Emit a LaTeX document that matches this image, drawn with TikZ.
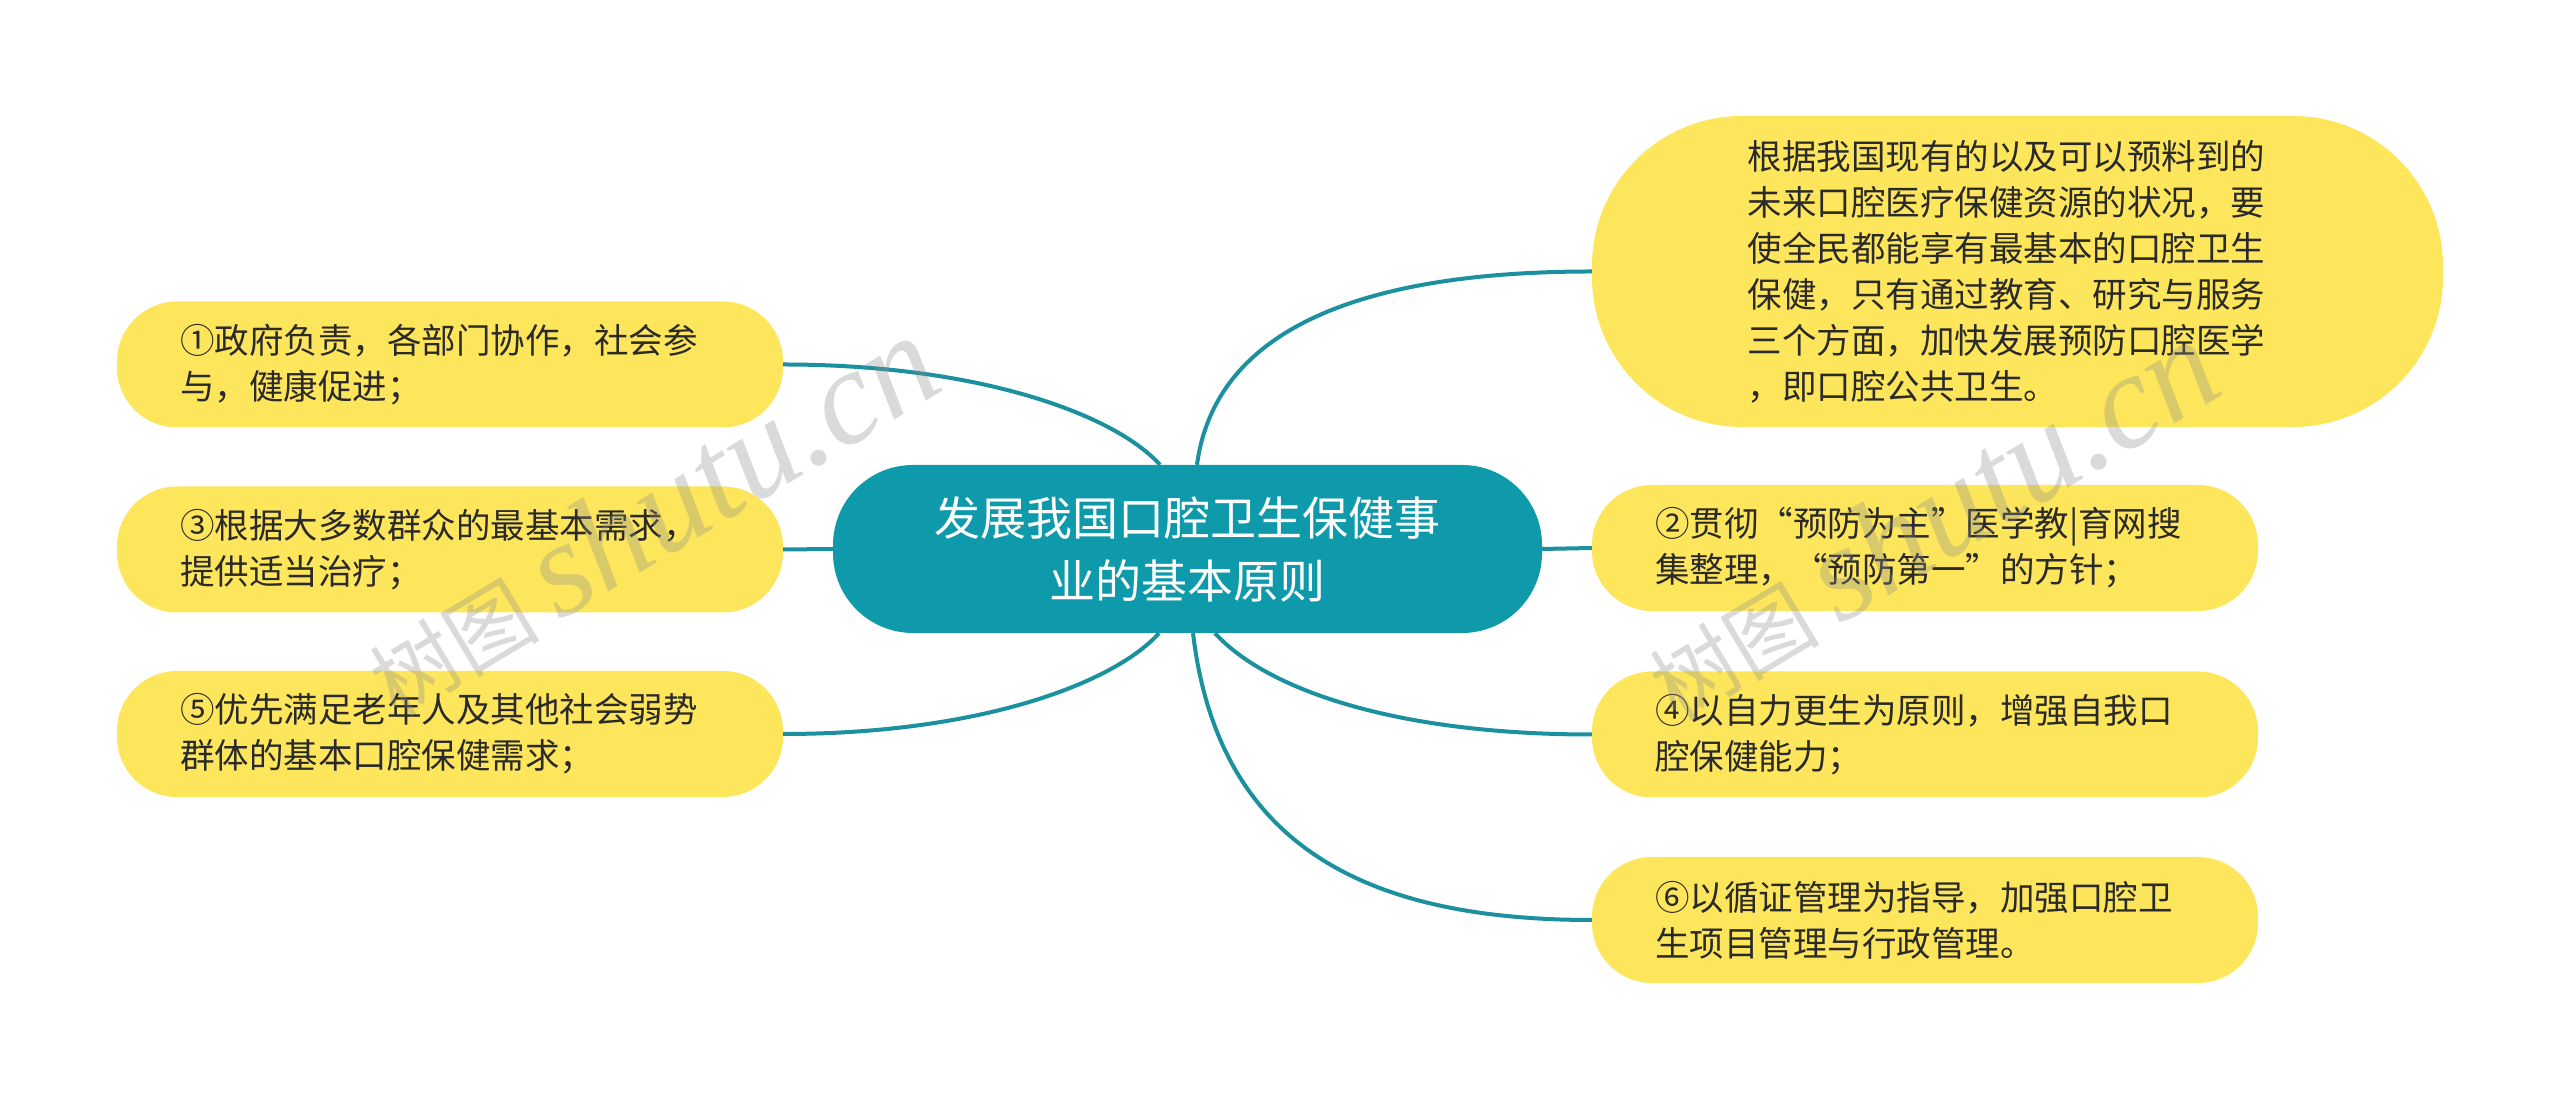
\documentclass[tikz,border=0pt]{standalone}
\usepackage{fontspec}
\usepackage{tikz}
\newfontfamily\cjkfont{Noto Sans CJK SC}
\newfontfamily\markfont{Liberation Serif}
\definecolor{leafyellow}{HTML}{FDE65C}
\definecolor{rootteal}{HTML}{0E9AAA}
\definecolor{linkteal}{HTML}{1B909E}
\definecolor{leaftext}{HTML}{2A2A2A}
\newcommand{\qopen}{\makebox[1em][r]{“}}
\newcommand{\qclose}{\makebox[1em][l]{”}}
\tikzstyle{root}=[fill=rootteal, text=white, rounded corners=80pt, minimum width=709pt, minimum height=168pt, align=center, font=\cjkfont\fontsize{46}{63}\selectfont]
\tikzstyle{leaf}=[fill=leafyellow, text=leaftext, rounded corners=60pt, minimum width=666pt, minimum height=126pt, inner xsep=63pt, text width=540pt, align=left, font=\cjkfont\fontsize{34.5}{46}\selectfont]
\tikzstyle{bigleaf}=[leaf, rounded corners=150pt, minimum width=851pt, minimum height=311pt]
\tikzstyle{link}=[draw=linkteal, line width=4pt]
\tikzstyle{watermark}=[text=black!45, opacity=0.32, rotate=31]

\begin{document}
\begin{tikzpicture}[x=1pt, y=1pt]
		   \fill[white] (0,0) rectangle (2560,1099);
		   \useasboundingbox (0,0) rectangle (2560,1099);
		   \begin{scope}
			   \node (c) at (1187.5, 550)[root] {发展我国口腔卫生保健事\\业的基本原则};
			   \node (l1) at (450, 734.5)[leaf] {①政府负责，各部门协作，社会参\\与，健康促进；};
			   \node (l3) at (450, 549.5)[leaf] {③根据大多数群众的最基本需求，\\提供适当治疗；};
			   \node (l5) at (450, 365)[leaf] {⑤优先满足老年人及其他社会弱势\\群体的基本口腔保健需求；};
			   \node (r0) at (2017.5, 827.5)[bigleaf] {根据我国现有的以及可以预料到的\\未来口腔医疗保健资源的状况，要\\使全民都能享有最基本的口腔卫生\\保健，只有通过教育、研究与服务\\三个方面，加快发展预防口腔医学\\，即口腔公共卫生。};
			   \node (r2) at (1925, 551)[leaf] {②贯彻\qopen 预防为主\qclose 医学教|育网搜\\集整理，\qopen 预防第一\qclose 的方针；};
			   \node (r4) at (1925, 364.5)[leaf] {④以自力更生为原则，增强自我口\\腔保健能力；};
			   \node (r6) at (1925, 179)[leaf] {⑥以循证管理为指导，加强口腔卫\\生项目管理与行政管理。};
		   \end{scope}
		   \begin{scope}
			   \draw [link] ([xshift=-27.5pt]c.north) .. controls +(-45,50) and +(197,0) .. (l1.east);
			   \draw [link] (c.west) -- (l3.east);
			   \draw [link] ([xshift=-28.5pt]c.south) .. controls +(-45,-50) and +(197,0) .. (l5.east);
			   \draw [link] ([xshift=9.5pt]c.north) .. controls +(20,150) and +(-200,0) .. (r0.west);
			   \draw [link] (c.east) -- (r2.west);
			   \draw [link] ([xshift=27.5pt]c.south) .. controls +(50,-55) and +(-200,0) .. (r4.west);
			   \draw [link] ([xshift=5.5pt]c.south) .. controls +(25,-210) and +(-230,0) .. (r6.west);
		   \end{scope}
		   \begin{scope}
			   \node (m1) at (650, 583)[watermark] {{\cjkfont\fontsize{85}{85}\selectfont 树图}\hspace{20pt}{\markfont\itshape\fontsize{135}{135}\selectfont shutu.cn}};
			   \node (m2) at (1930, 579)[watermark] {{\cjkfont\fontsize{85}{85}\selectfont 树图}\hspace{20pt}{\markfont\itshape\fontsize{135}{135}\selectfont shutu.cn}};
		   \end{scope}
	   \end{tikzpicture}
\end{document}
